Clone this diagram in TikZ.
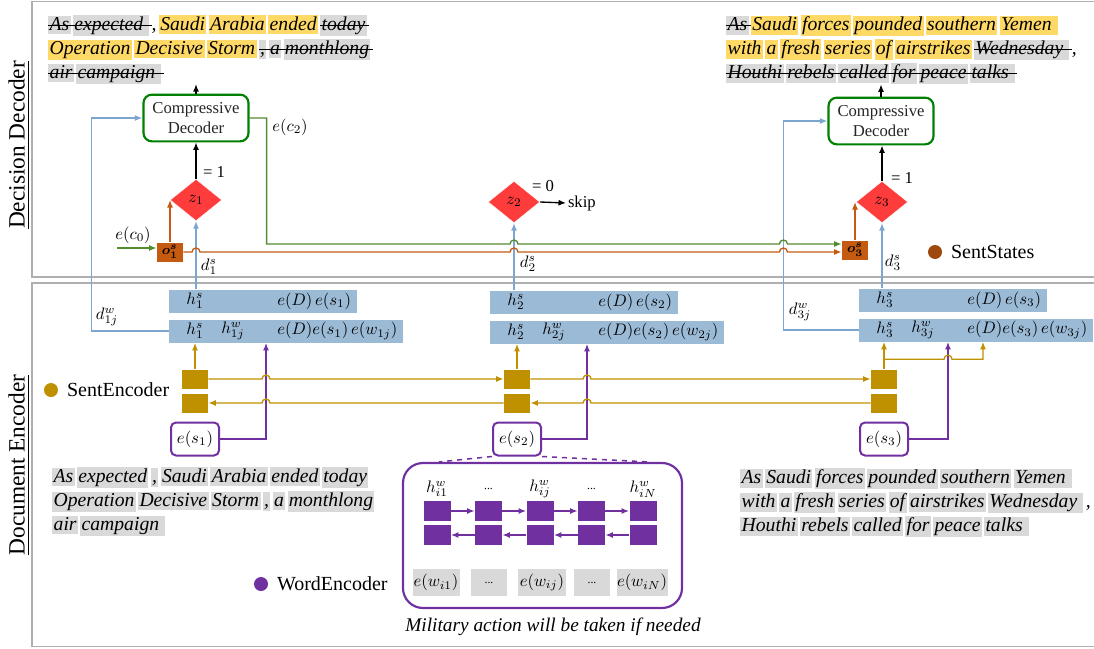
\documentclass[tikz,border=0pt]{standalone}
\usepackage{amsmath}
\usepackage{fontspec}
\setmainfont{Liberation Serif}
\usetikzlibrary{arrows.meta,positioning,calc,shapes.geometric}

\definecolor{tokgray}{RGB}{217,217,217}
\definecolor{tokyellow}{RGB}{255,217,102}
\definecolor{barblue}{RGB}{155,186,214}
\definecolor{linkblue}{RGB}{125,165,210}
\definecolor{decgreen}{RGB}{0,128,0}
\definecolor{ctxgreen}{RGB}{84,140,48}
\definecolor{zred}{RGB}{255,60,60}
\definecolor{stateorange}{RGB}{197,90,17}
\definecolor{statebrown}{RGB}{158,72,14}
\definecolor{sentgold}{RGB}{191,144,0}
\definecolor{wordpurple}{RGB}{112,48,160}
\definecolor{framegray}{RGB}{175,175,175}

\setlength{\fboxsep}{0.8pt}
\newsavebox{\tokbox}
\newcommand{\tstrut}{\rule[-1.7pt]{0pt}{9.4pt}}
\newcommand{\tokgap}{\hskip1.4pt}
\newcommand{\gw}[1]{\colorbox{tokgray}{\tstrut#1}\tokgap}
\newcommand{\yw}[1]{\colorbox{tokyellow}{\tstrut#1}\tokgap}
\newcommand{\sw}[1]{\sbox{\tokbox}{\colorbox{tokgray}{\tstrut#1}}%
  \rlap{\usebox{\tokbox}}\rule[2.7pt]{\dimexpr\wd\tokbox+1.4pt\relax}{0.5pt}}

\tikzset{
  frame/.style={draw=framegray, line width=0.9pt},
  panellabel/.style={rotate=90, font=\fontsize{14}{16}\selectfont},
  sent/.style={align=left, inner sep=0pt, font=\fontsize{11.8}{14.4}\selectfont\itshape},
  decoder/.style={draw=decgreen, line width=1.3pt, rounded corners=5pt, fill=white,
    minimum width=63pt, minimum height=28pt, align=center, inner sep=1pt,
    font=\fontsize{10}{12.5}\selectfont, text=black!85},
  gate/.style={diamond, fill=zred, draw=white, line width=0.3pt,
    minimum width=31pt, minimum height=25pt, inner sep=0pt},
  stateout/.style={fill=stateorange, minimum width=15.6pt, minimum height=11.4pt,
    inner sep=0pt, font=\fontsize{8}{9}\selectfont},
  topbar/.style={fill=barblue, anchor=west, minimum width=112.8pt,
    minimum height=13.8pt, inner sep=0pt},
  botbar/.style={topbar, minimum width=140.4pt},
  sentcell/.style={fill=sentgold, minimum width=15.6pt, minimum height=11.4pt, inner sep=0pt},
  sentemb/.style={draw=wordpurple, line width=1.2pt, rounded corners=3pt, fill=white,
    minimum width=28.8pt, minimum height=19.8pt, inner sep=1pt},
  wordcell/.style={fill=wordpurple, minimum width=16.2pt, minimum height=12pt, inner sep=0pt},
  wordemb/.style={fill=tokgray, minimum height=16.2pt, inner sep=0pt},
  wordbox/.style={draw=wordpurple, line width=1.3pt, rounded corners=12pt,
    minimum width=167.4pt, minimum height=87pt},
  dot/.style={circle, inner sep=0pt, minimum size=8.4pt},
  legend/.style={font=\fontsize{12}{14}\selectfont, inner sep=0pt},
  link/.style={draw=linkblue, line width=0.8pt},
  ctx/.style={draw=ctxgreen, line width=0.8pt},
  stateline/.style={draw=stateorange, line width=0.8pt},
  sentline/.style={draw=sentgold, line width=0.8pt},
  wordline/.style={draw=wordpurple, line width=0.9pt},
  flow/.style={draw=black, line width=0.8pt}
}

\begin{document}
\begin{tikzpicture}[x=0.6pt, y=-0.6pt, >={Latex[length=4.5pt,width=3.6pt]}]
\useasboundingbox (0,0) rectangle (1094,648);

% panels
\draw[frame] (1094,1.5) -- (32,1.5) -- (32,277) -- (1094,277);
\draw[frame] (1094,283) -- (32,283) -- (32,646.5) -- (1094,646.5);
\node[panellabel] (declbl) at (19,145) {\underline{Decision Decoder}};
\node[panellabel] (enclbl) at (19,465) {\underline{Document Encoder}};

% sentences
\node[sent, anchor=north west] (out1) at (48,15) {%
\sw{As}\sw{expected\ },\tokgap\yw{Saudi}\yw{Arabia}\yw{ended}\sw{today}\\
\yw{Operation}\yw{Decisive}\yw{Storm}\sw{,}\sw{a}\sw{monthlong}\\
\sw{air}\sw{campaign\ }};
\node[sent, anchor=north west] (out3) at (726,15) {%
\sw{As}\yw{Saudi}\yw{forces}\yw{pounded}\yw{southern}\yw{Yemen\ }\\
\yw{with}\yw{a}\yw{fresh}\yw{series}\yw{of}\yw{airstrikes}\sw{Wednesday\ },\\
\sw{Houthi}\sw{rebels}\sw{called}\sw{for}\sw{peace}\sw{talks\ }};
\node[sent, anchor=north west] (src1) at (52,467) {%
\gw{As}\gw{expected}\gw{,}\gw{Saudi}\gw{Arabia}\gw{ended}\gw{today}\\
\gw{Operation}\gw{Decisive}\gw{Storm}\gw{,}\gw{a}\gw{monthlong}\\
\gw{air}\gw{campaign\ }};
\node[sent, anchor=north west] (src3) at (740,468) {%
\gw{As}\gw{Saudi}\gw{forces}\gw{pounded}\gw{southern}\gw{Yemen\ }\\
\gw{with}\gw{a}\gw{fresh}\gw{series}\gw{of}\gw{airstrikes}\gw{Wednesday\ },\\
\gw{Houthi}\gw{rebels}\gw{called}\gw{for}\gw{peace}\gw{talks\ }};

% decision decoder
\node[decoder] (dec1) at (196,118) {Compressive\\Decoder};
\node[decoder] (dec3) at (881,121) {Compressive\\Decoder};
\node[gate] (z1) at (196,200) {$z_1$};
\node[gate] (z2) at (514,202) {$z_2$};
\node[gate] (z3) at (882,202) {$z_3$};
\node[stateout] (o1) at (170,252) {$\boldsymbol{o_1^s}$};
\node[stateout] (o3) at (855,250) {$\boldsymbol{o_3^s}$};

\node (eq1) at (214,172) {= 1};
\node (eq3) at (902,178) {= 1};
\node (eq2) at (543,186) {= 0};
\node[anchor=west, inner sep=1pt] (skip) at (566,203) {skip};
\node (c0lbl) at (133,235) {$e(c_0)$};
\node (c2lbl) at (290,127) {$e(c_2)$};
\node (d1lbl) at (209,267) {$d_1^s$};
\node (d2lbl) at (528,264) {$d_2^s$};
\node (d3lbl) at (893,263) {$d_3^s$};
\node (d1wlbl) at (107,317) {$d_{1j}^w$};
\node (d3wlbl) at (800,312) {$d_{3j}^w$};

\draw[flow,->] (dec1.north) -- (dec1.north |- out1.south);
\draw[flow,->] (dec3.north) -- (dec3.north |- out3.south);
\draw[flow,->] (z1.north) -- (z1.north |- dec1.south);
\draw[flow,->] (z3.north) -- (z3.north |- dec3.south);
\draw[flow,->] (z2.east) -- (skip.west);

% document encoder
\foreach \i/\bx/\by/\gx/\wo in {1/169/301/195/97, 2/490/302/517/97, 3/859/300/884/89} {
  \node[topbar] (ht\i) at (\bx,\by) {};
  \node[botbar] (hb\i) at (\bx,\by+30) {};
  \node (hts\i) at ($(ht\i.west)+(26,0)$) {$h_{\i}^s$};
  \node[anchor=west, inner sep=0pt] (hte\i) at ($(ht\i.west)+(108,0)$) {$e(D)\,e(s_{\i})$};
  \node (hbs\i) at ($(hb\i.west)+(26,0)$) {$h_{\i}^s$};
  \node (hbw\i) at ($(hb\i.west)+(64,0)$) {$h_{\i j}^w$};
  \node[anchor=west, inner sep=0pt] (hbe\i) at ($(hb\i.west)+(108,0)$) {$e(D)e(s_{\i})\,e(w_{\i j})$};
  \node[sentcell] (sf\i) at (\gx,379) {};
  \node[sentcell] (sb\i) at (\gx,403) {};
  \node[sentemb] (es\i) at (\gx,439) {$e(s_{\i})$};
  \coordinate (w\i) at ($(hb\i.south west)+(\wo,0)$);
  \draw[sentline,->] (sf\i.north) -- (sf\i.north |- hb\i.south);
  \draw[wordline,->] (es\i.east) -| (w\i);
}

\draw[sentline,->] (sf1.east) -- ($(sf1.east -| w1)+(-4,0)$) arc (180:360:4) -- (sf2.west);
\draw[sentline,->] (sf2.east) -- ($(sf2.east -| w2)+(-4,0)$) arc (180:360:4) -- (sf3.west);
\draw[sentline,->] (sb3.west) -- ($(sb3.west -| w2)+(4,0)$) arc (0:-180:4) -- (sb2.east);
\draw[sentline,->] (sb2.west) -- ($(sb2.west -| w1)+(4,0)$) arc (0:-180:4) -- (sb1.east);
\coordinate (br3) at ($(sf3.north)+(0,-10)$);
\coordinate (g3) at ($(hb3.south west)+(124,0)$);
\draw[sentline,->] (br3) -- ($(br3 -| w3)+(-4,0)$) arc (180:360:4) -- (br3 -| g3) -- (g3);

% links into the decoder
\draw[link,->] (z1.south |- ht1.north) -- (z1.south);
\draw[link,->] (z2.south |- ht2.north) -- (z2.south);
\draw[link,->] (z3.south |- ht3.north) -- (z3.south);
\coordinate (l1) at ($(dec1.west)+(-51,0)$);
\coordinate (l3) at ($(dec3.west)+(-44,0)$);
\draw[link,->] (hb1.west) -| (l1) -- (dec1.west);
\draw[link,->] (hb3.west) -| (l3) -- (dec3.west);

\draw[stateline,->] (o1.east) -- ($(o1.east -| z1)+(-4,0)$) arc (180:360:4)
  -- ($(o1.east -| z2)+(-4,0)$) arc (180:360:4)
  -- ($(o1.east -| l3)+(-4,0)$) arc (180:360:4) -- (o1.east -| o3.west);
\draw[stateline,->] (o1.north) -- (o1.north |- z1.west);
\draw[stateline,->] (o3.north) -- (o3.north |- z3.west);

\coordinate (c0) at (117,248);
\draw[ctx,->] (c0) -- (c0 -| o1.west);
\coordinate (g3in) at ($(o3.west)+(0,-6)$);
\draw[ctx,->] (dec1.east) -- ++(17,0) |- ($(g3in -| z2)+(-4,0)$) arc (180:360:4)
  -- ($(g3in -| l3)+(-4,0)$) arc (180:360:4) -- (g3in);

% word encoder
\node[wordbox] (wenc) at (542.5,535.5) {};
\draw[wordline, dashed] (es2.south west) -- ($(wenc.north west)+(37,0)$);
\draw[wordline, dashed] (es2.south east) -- ($(wenc.north east)+(-35,0)$);
\foreach \i in {1,...,5} {
  \node[wordcell] (wf\i) at (385.5+51.5*\i,511) {};
  \node[wordcell] (wb\i) at (385.5+51.5*\i,535) {};
}
\foreach \i/\j in {1/2,2/3,3/4,4/5} {
  \draw[wordline,->] (wf\i) -- (wf\j);
  \draw[wordline,->] (wb\j) -- (wb\i);
}
\foreach \i/\t in {1/{$h_{i1}^w$}, 2/{\scriptsize...}, 3/{$h_{ij}^w$}, 4/{\scriptsize...}, 5/{$h_{iN}^w$}}
  \node (wh\i) at ($(wf\i)+(0,-22)$) {\t};
\foreach \i/\x/\w/\t in {1/436/47/{$e(w_{i1})$}, 2/489/36/{\scriptsize...}, 3/542/48/{$e(w_{ij})$}, 4/592/36/{\scriptsize...}, 5/642/51/{$e(w_{iN})$}}
  \node[wordemb, minimum width=\w*0.6pt] (we\i) at (\x,582.5) {\t};
\node[font=\fontsize{11.6}{13}\selectfont\itshape] (cap) at (553,627) {Military action will be taken if needed};

% legend
\node[dot, fill=sentgold] (sedot) at (51,390) {};
\node[legend, right=5pt of sedot] (selbl) {SentEncoder};
\node[dot, fill=statebrown] (ssdot) at (935,252) {};
\node[legend, right=5pt of ssdot] (sslbl) {SentStates};
\node[dot, fill=wordpurple] (wedot) at (261,584) {};
\node[legend, right=5pt of wedot] (welbl) {WordEncoder};

\end{tikzpicture}
\end{document}
